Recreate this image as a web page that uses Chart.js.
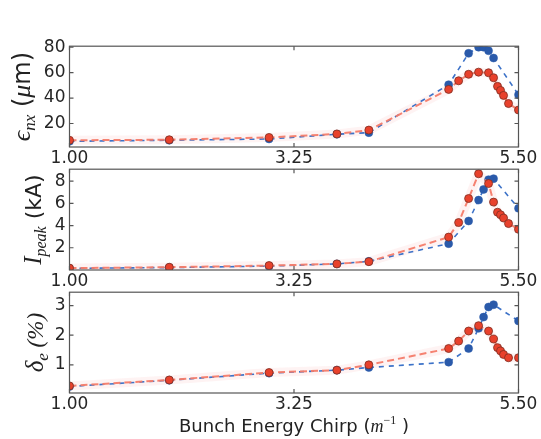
<!DOCTYPE html>
<html>
<head>
<meta charset="utf-8">
<script src="https://cdn.jsdelivr.net/npm/chart.js@4.4.1/dist/chart.umd.min.js"></script>
<style>
body{margin:0;background:#fff;}
#wrap{position:relative;width:541px;height:439px;overflow:hidden;}
canvas{position:absolute;left:0;}
</style>
</head>
<body>
<div id="wrap">
<canvas id="c1"></canvas>
<canvas id="c2"></canvas>
<canvas id="c3"></canvas>
</div>
<script>
// shared x values (chirp)
var xTicks = [1.00, 3.25, 5.50];
var xBlue = [1.0, 2.0, 3.0, 3.68, 4.0, 4.8, 5.0, 5.1, 5.15, 5.2, 5.25, 5.5];
var xRed = [1.0, 2.0, 3.0, 3.68, 4.0, 4.8, 4.9, 5.0, 5.1, 5.2, 5.25, 5.29, 5.32, 5.35, 5.4, 5.5];

// emittance (um)
var emitBlue = [6.0, 6.8, 7.8, 11.5, 12.8, 50.5, 75.2, 80, 80, 77.2, 71.5, 42.6];
var emitRed = [6.8, 7.2, 9.0, 11.8, 14.8, 46.8, 53.6, 58.7, 60.4, 59.9, 56, 49.2, 46, 42.1, 35.7, 30.6];
var emitTicks = [20, 40, 60, 80];

// peak current (kA)
var ipkBlue = [0.15, 0.22, 0.35, 0.55, 0.78, 2.37, 4.41, 6.29, 7.25, 8.13, 8.22, 5.55];
var ipkRed = [0.17, 0.25, 0.4, 0.55, 0.75, 2.96, 4.27, 6.43, 8.66, 7.78, 6.11, 5.2, 4.97, 4.68, 4.18, 3.66];
var ipkTicks = [2, 4, 6, 8];

// energy spread (%)
var spreadBlue = [0.27, 0.48, 0.72, 0.82, 0.91, 1.09, 1.55, 2.23, 2.61, 2.95, 3.03, 2.48];
var spreadRed = [0.29, 0.49, 0.74, 0.82, 1.0, 1.55, 1.80, 2.14, 2.32, 2.14, 1.87, 1.58, 1.47, 1.35, 1.24, 1.24];
var spreadTicks = [1, 2, 3];

var frames = [46, 169, 292];
var plotH = 101;
var padTop = 14;
var serif = '"Liberation Serif", "DejaVu Serif", serif';
var sans = '"DejaVu Sans", sans-serif';

function pts(xs, ys) {
  return xs.map(function(x, i){ return {x: x, y: ys[i]}; });
}

// frame box + inward tick marks like the original
var framePlugin = {
  id: 'frame',
  afterDatasetsDraw: function(chart) {
    var a = chart.chartArea, ctx = chart.ctx;
    var xs = chart.scales.x, ys = chart.scales.y;
    ctx.save();
    ctx.strokeStyle = '#555';
    ctx.lineWidth = 1.2;
    ctx.strokeRect(a.left, a.top, a.right - a.left, a.bottom - a.top);
    ctx.beginPath();
    xTicks.forEach(function(v){
      var p = xs.getPixelForValue(v);
      ctx.moveTo(p, a.bottom); ctx.lineTo(p, a.bottom - 4);
      ctx.moveTo(p, a.top); ctx.lineTo(p, a.top + 4);
    });
    ys.ticks.forEach(function(t){
      var p = ys.getPixelForValue(t.value);
      ctx.moveTo(a.left, p); ctx.lineTo(a.left + 4, p);
      ctx.moveTo(a.right, p); ctx.lineTo(a.right - 4, p);
    });
    ctx.stroke();
    ctx.restore();
  }
};

function drawParts(ctx, parts, x, y) {
  parts.forEach(function(p){
    ctx.font = p.font;
    ctx.fillText(p.t, x, y + (p.dy || 0));
    x += ctx.measureText(p.t).width;
  });
}
function partsWidth(ctx, parts) {
  var w = 0;
  parts.forEach(function(p){ ctx.font = p.font; w += ctx.measureText(p.t).width; });
  return w;
}

var titlePlugin = {
  id: 'ytitle',
  afterDraw: function(chart, args, opts) {
    var a = chart.chartArea, ctx = chart.ctx;
    ctx.save();
    ctx.fillStyle = '#222';
    ctx.textBaseline = 'alphabetic';
    ctx.textAlign = 'left';
    if (opts.parts) {
      var w = partsWidth(ctx, opts.parts);
      ctx.translate(opts.baseX, (a.top + a.bottom) / 2 + (opts.shift || 0));
      ctx.rotate(-Math.PI / 2);
      drawParts(ctx, opts.parts, -w / 2, 0);
      ctx.setTransform(1, 0, 0, 1, 0, 0);
    }
    if (opts.xparts) {
      var w2 = partsWidth(ctx, opts.xparts);
      drawParts(ctx, opts.xparts, (a.left + a.right) / 2 - w2 / 2, a.bottom + 39);
    }
    ctx.restore();
  }
};

function makeChart(id, idx, blue, red, yMin, yMax, yTicks, titleOpts, xH) {
  var cv = document.getElementById(id);
  cv.width = 541;
  cv.height = padTop + plotH + xH;
  cv.style.top = (frames[idx] - padTop) + 'px';
  return new Chart(cv.getContext('2d'), {
    type: 'scatter',
    data: {
      datasets: [{
        data: pts(xRed, red),
        showLine: true,
        borderColor: 'rgba(244,124,106,0.95)',
        borderWidth: 2,
        borderDash: [7, 4],
        pointRadius: 4,
        pointBackgroundColor: '#e8412c',
        pointBorderColor: '#7c2e22',
        pointBorderWidth: 0.8,
        order: 0
      }, {
        data: pts(xBlue, blue),
        showLine: true,
        borderColor: '#3c72c8',
        borderWidth: 1.6,
        borderDash: [5, 5],
        pointRadius: 4,
        pointBackgroundColor: '#2a5aaa',
        pointBorderColor: '#2a5aaa',
        pointBorderWidth: 0.5,
        order: 1
      }, {
        data: pts(xRed, red),
        showLine: true,
        borderColor: 'rgba(245,140,140,0.10)',
        borderWidth: 9,
        pointRadius: 0,
        order: 2
      }]
    },
    options: {
      responsive: false,
      animation: false,
      layout: {padding: {top: padTop, right: 22.5, left: 0, bottom: 0}},
      plugins: {legend: {display: false}, tooltip: {enabled: false}, ytitle: titleOpts},
      scales: {
        x: {
          type: 'linear', min: 1, max: 5.5,
          afterBuildTicks: function(s){ s.ticks = xTicks.map(function(v){ return {value: v}; }); },
          afterFit: function(s){ s.height = xH; },
          ticks: {
            callback: function(v){ return Number(v).toFixed(2); },
            font: {family: sans, size: 17}, color: '#262626',
            padding: 1, maxRotation: 0, autoSkip: false
          },
          grid: {display: false, drawTicks: false},
          border: {display: false}
        },
        y: {
          min: yMin, max: yMax,
          afterBuildTicks: function(s){ s.ticks = yTicks.map(function(v){ return {value: v}; }); },
          afterFit: function(s){ s.width = 69.5; },
          ticks: {font: {family: sans, size: 17}, color: '#262626', padding: 4},
          grid: {display: false, drawTicks: false},
          border: {display: false}
        }
      }
    },
    plugins: [framePlugin, titlePlugin]
  });
}

makeChart('c1', 0, emitBlue, emitRed, 1.5, 80.8, emitTicks, {
  baseX: 30, parts: [
    {t: 'ϵ', font: 'italic 26px ' + serif},
    {t: 'nx', font: 'italic 17px ' + serif, dy: 5},
    {t: ' (', font: '24px ' + sans},
    {t: 'μ', font: 'italic 26px ' + serif},
    {t: 'm)', font: '24px ' + sans}
  ]}, 24);

makeChart('c2', 1, ipkBlue, ipkRed, 0, 9.07, ipkTicks, {
  baseX: 41, parts: [
    {t: 'I', font: 'italic 25px ' + serif},
    {t: 'peak', font: 'italic 16px ' + serif, dy: 5},
    {t: ' (kA)', font: '22px ' + sans}
  ]}, 24);

makeChart('c3', 2, spreadBlue, spreadRed, 0.05, 3.45, spreadTicks, {
  baseX: 43, parts: [
    {t: 'δ', font: 'italic 25px ' + serif},
    {t: 'e', font: 'italic 17px ' + serif, dy: 5},
    {t: ' (%)', font: 'italic 23px ' + serif}
  ],
  xparts: [
    {t: 'Bunch Energy Chirp (', font: '18px ' + sans},
    {t: 'm', font: 'italic 18px ' + serif},
    {t: '−1', font: '12px ' + serif, dy: -8},
    {t: ' )', font: '18px ' + sans}
  ]}, 46);
</script>
</body>
</html>
